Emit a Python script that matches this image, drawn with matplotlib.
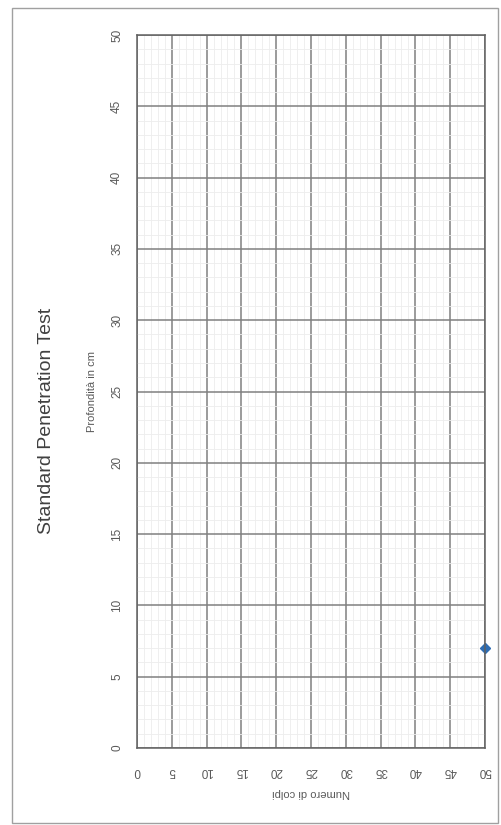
import matplotlib
matplotlib.use("Agg")
import matplotlib.pyplot as plt
from matplotlib.ticker import MultipleLocator

colpi = [50]
profondita = [7]

x_ticks = [0, 5, 10, 15, 20, 25, 30, 35, 40, 45, 50]
y_ticks = [0, 5, 10, 15, 20, 25, 30, 35, 40, 45, 50]

plt.rcParams['font.family'] = ['Liberation Sans', 'DejaVu Sans']

fig = plt.figure(figsize=(5.02, 8.25), dpi=100)
ax = fig.add_axes([137 / 502, 1 - 748 / 825, (485 - 137) / 502, (748 - 35) / 825])

ax.set_xlim(0, 50)
ax.set_ylim(0, 50)
ax.set_xticks(x_ticks)
ax.set_yticks(y_ticks)
ax.xaxis.set_minor_locator(MultipleLocator(1))
ax.yaxis.set_minor_locator(MultipleLocator(1))
ax.grid(which='major', color='#808080', linewidth=1.1)
ax.grid(which='minor', color='#ededed', linewidth=0.6)
ax.set_axisbelow(True)
for s in ax.spines.values():
    s.set_color('#606060')
    s.set_linewidth(1.1)

ax.tick_params(which='both', length=0, colors='#595959', labelsize=8.5)
ax.tick_params(axis='y', pad=10)
ax.tick_params(axis='x', pad=12)
for lbl in ax.get_yticklabels():
    lbl.set_rotation(90)
    lbl.set_va('center')
for lbl in ax.get_xticklabels():
    lbl.set_rotation(180)

ax.plot(colpi, profondita, linestyle='none', marker='D', markersize=5,
        color='#2e6db4', clip_on=False)

ax.set_xlabel("Numero di colpi", rotation=180, fontsize=8, color='#595959', labelpad=8)
ax.set_ylabel("Profondità in cm", fontsize=8, color='#595959', labelpad=10)

fig.text(47 / 502, 1 - 421 / 825, "Standard Penetration Test", rotation=90,
         ha='center', va='center', fontsize=14, color='#404040')

# outer chart border
fig.patches.append(plt.Rectangle((12 / 502, 1 - 823 / 825), (498 - 12) / 502, (823 - 8) / 825,
                                 transform=fig.transFigure, fill=False,
                                 edgecolor='#a0a0a0', linewidth=1.0))

fig.savefig("out.png", dpi=100)
